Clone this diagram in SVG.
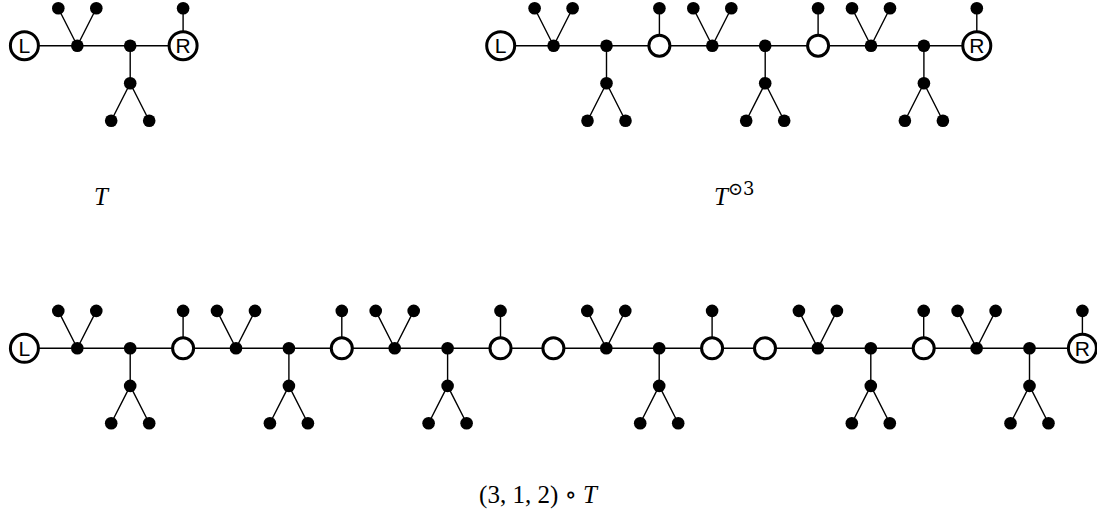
<svg xmlns="http://www.w3.org/2000/svg" width="1097" height="518" viewBox="0 0 1097 518">
<style>
.e{fill:none;stroke:#000;stroke-width:1.4;stroke-linecap:round;stroke-linejoin:round}
.d{fill:#000}
.o{fill:#fff;stroke:#000;stroke-width:3}
.t{fill:#fff;stroke:#000;stroke-width:3}
.lbl{font-family:"Liberation Sans",Arial,sans-serif;font-size:21px;text-anchor:middle}
.m{font-family:"Liberation Serif","DejaVu Serif",serif;font-size:25px}
.it{font-style:italic}
</style>
<rect width="1097" height="518" fill="#fff"/>
<g id="connectors">
<path class="e" d="M24.4 45.7H183.1 M58.3 8.3L77.3 45.7L96.3 8.3 M130.2 45.7V83.3 M111.2 120.7L130.2 83.3L149.2 120.7 M183.1 45.7V8.3"/>
<path class="e" d="M500.7 45.7H976.8 M534.6 8.3L553.6 45.7L572.6 8.3 M606.5 45.7V83.3 M587.5 120.7L606.5 83.3L625.5 120.7 M659.4 45.7V8.3 M693.3 8.3L712.3 45.7L731.3 8.3 M765.2 45.7V83.3 M746.2 120.7L765.2 83.3L784.2 120.7 M818.1 45.7V8.3 M852 8.3L871 45.7L890 8.3 M923.9 45.7V83.3 M904.9 120.7L923.9 83.3L942.9 120.7 M976.8 45.7V8.3"/>
<path class="e" d="M24.4 348.3H1082.4 M58.3 310.9L77.3 348.3L96.3 310.9 M130.2 348.3V385.9 M111.2 423.3L130.2 385.9L149.2 423.3 M183.1 348.3V310.9 M217 310.9L236 348.3L255 310.9 M288.9 348.3V385.9 M269.9 423.3L288.9 385.9L307.9 423.3 M341.8 348.3V310.9 M375.7 310.9L394.7 348.3L413.7 310.9 M447.6 348.3V385.9 M428.6 423.3L447.6 385.9L466.6 423.3 M500.5 348.3V310.9 M587.3 310.9L606.3 348.3L625.3 310.9 M659.2 348.3V385.9 M640.2 423.3L659.2 385.9L678.2 423.3 M712.1 348.3V310.9 M798.9 310.9L817.9 348.3L836.9 310.9 M870.8 348.3V385.9 M851.8 423.3L870.8 385.9L889.8 423.3 M923.7 348.3V310.9 M957.6 310.9L976.6 348.3L995.6 310.9 M1029.5 348.3V385.9 M1010.5 423.3L1029.5 385.9L1048.5 423.3 M1082.4 348.3V310.9"/>
</g>
<g id="tree-T">
<circle class="t" cx="24.4" cy="45.7" r="14"/><text class="lbl" x="24.4" y="53.3">L</text>
<circle class="d" cx="77.3" cy="45.7" r="6.3"/><circle class="d" cx="58.3" cy="8.3" r="6.3"/><circle class="d" cx="96.3" cy="8.3" r="6.3"/>
<circle class="d" cx="130.2" cy="45.7" r="6.3"/><circle class="d" cx="130.2" cy="83.3" r="6.3"/><circle class="d" cx="111.2" cy="120.7" r="6.3"/><circle class="d" cx="149.2" cy="120.7" r="6.3"/>
<circle class="d" cx="183.1" cy="8.3" r="6.3"/>
<circle class="t" cx="183.1" cy="45.7" r="14"/><text class="lbl" x="183.1" y="53.3">R</text>
</g>
<g id="tree-T3">
<circle class="t" cx="500.7" cy="45.7" r="14"/><text class="lbl" x="500.7" y="53.3">L</text>
<circle class="d" cx="553.6" cy="45.7" r="6.3"/><circle class="d" cx="534.6" cy="8.3" r="6.3"/><circle class="d" cx="572.6" cy="8.3" r="6.3"/>
<circle class="d" cx="606.5" cy="45.7" r="6.3"/><circle class="d" cx="606.5" cy="83.3" r="6.3"/><circle class="d" cx="587.5" cy="120.7" r="6.3"/><circle class="d" cx="625.5" cy="120.7" r="6.3"/>
<circle class="d" cx="659.4" cy="8.3" r="6.3"/><circle class="o" cx="659.4" cy="45.7" r="10.5"/>
<circle class="d" cx="712.3" cy="45.7" r="6.3"/><circle class="d" cx="693.3" cy="8.3" r="6.3"/><circle class="d" cx="731.3" cy="8.3" r="6.3"/>
<circle class="d" cx="765.2" cy="45.7" r="6.3"/><circle class="d" cx="765.2" cy="83.3" r="6.3"/><circle class="d" cx="746.2" cy="120.7" r="6.3"/><circle class="d" cx="784.2" cy="120.7" r="6.3"/>
<circle class="d" cx="818.1" cy="8.3" r="6.3"/><circle class="o" cx="818.1" cy="45.7" r="10.5"/>
<circle class="d" cx="871" cy="45.7" r="6.3"/><circle class="d" cx="852" cy="8.3" r="6.3"/><circle class="d" cx="890" cy="8.3" r="6.3"/>
<circle class="d" cx="923.9" cy="45.7" r="6.3"/><circle class="d" cx="923.9" cy="83.3" r="6.3"/><circle class="d" cx="904.9" cy="120.7" r="6.3"/><circle class="d" cx="942.9" cy="120.7" r="6.3"/>
<circle class="d" cx="976.8" cy="8.3" r="6.3"/>
<circle class="t" cx="976.8" cy="45.7" r="14"/><text class="lbl" x="976.8" y="53.3">R</text>
</g>
<g id="tree-312">
<circle class="t" cx="24.4" cy="348.3" r="14"/><text class="lbl" x="24.4" y="355.9">L</text>
<circle class="d" cx="77.3" cy="348.3" r="6.3"/><circle class="d" cx="58.3" cy="310.9" r="6.3"/><circle class="d" cx="96.3" cy="310.9" r="6.3"/>
<circle class="d" cx="130.2" cy="348.3" r="6.3"/><circle class="d" cx="130.2" cy="385.9" r="6.3"/><circle class="d" cx="111.2" cy="423.3" r="6.3"/><circle class="d" cx="149.2" cy="423.3" r="6.3"/>
<circle class="d" cx="183.1" cy="310.9" r="6.3"/><circle class="o" cx="183.1" cy="348.3" r="10.5"/>
<circle class="d" cx="236" cy="348.3" r="6.3"/><circle class="d" cx="217" cy="310.9" r="6.3"/><circle class="d" cx="255" cy="310.9" r="6.3"/>
<circle class="d" cx="288.9" cy="348.3" r="6.3"/><circle class="d" cx="288.9" cy="385.9" r="6.3"/><circle class="d" cx="269.9" cy="423.3" r="6.3"/><circle class="d" cx="307.9" cy="423.3" r="6.3"/>
<circle class="d" cx="341.8" cy="310.9" r="6.3"/><circle class="o" cx="341.8" cy="348.3" r="10.5"/>
<circle class="d" cx="394.7" cy="348.3" r="6.3"/><circle class="d" cx="375.7" cy="310.9" r="6.3"/><circle class="d" cx="413.7" cy="310.9" r="6.3"/>
<circle class="d" cx="447.6" cy="348.3" r="6.3"/><circle class="d" cx="447.6" cy="385.9" r="6.3"/><circle class="d" cx="428.6" cy="423.3" r="6.3"/><circle class="d" cx="466.6" cy="423.3" r="6.3"/>
<circle class="d" cx="500.5" cy="310.9" r="6.3"/><circle class="o" cx="500.5" cy="348.3" r="10.5"/>
<circle class="o" cx="553.4" cy="348.3" r="10.5"/>
<circle class="d" cx="606.3" cy="348.3" r="6.3"/><circle class="d" cx="587.3" cy="310.9" r="6.3"/><circle class="d" cx="625.3" cy="310.9" r="6.3"/>
<circle class="d" cx="659.2" cy="348.3" r="6.3"/><circle class="d" cx="659.2" cy="385.9" r="6.3"/><circle class="d" cx="640.2" cy="423.3" r="6.3"/><circle class="d" cx="678.2" cy="423.3" r="6.3"/>
<circle class="d" cx="712.1" cy="310.9" r="6.3"/><circle class="o" cx="712.1" cy="348.3" r="10.5"/>
<circle class="o" cx="765" cy="348.3" r="10.5"/>
<circle class="d" cx="817.9" cy="348.3" r="6.3"/><circle class="d" cx="798.9" cy="310.9" r="6.3"/><circle class="d" cx="836.9" cy="310.9" r="6.3"/>
<circle class="d" cx="870.8" cy="348.3" r="6.3"/><circle class="d" cx="870.8" cy="385.9" r="6.3"/><circle class="d" cx="851.8" cy="423.3" r="6.3"/><circle class="d" cx="889.8" cy="423.3" r="6.3"/>
<circle class="d" cx="923.7" cy="310.9" r="6.3"/><circle class="o" cx="923.7" cy="348.3" r="10.5"/>
<circle class="d" cx="976.6" cy="348.3" r="6.3"/><circle class="d" cx="957.6" cy="310.9" r="6.3"/><circle class="d" cx="995.6" cy="310.9" r="6.3"/>
<circle class="d" cx="1029.5" cy="348.3" r="6.3"/><circle class="d" cx="1029.5" cy="385.9" r="6.3"/><circle class="d" cx="1010.5" cy="423.3" r="6.3"/><circle class="d" cx="1048.5" cy="423.3" r="6.3"/>
<circle class="d" cx="1082.4" cy="310.9" r="6.3"/>
<circle class="t" cx="1082.4" cy="348.3" r="14"/><text class="lbl" x="1082.4" y="355.9">R</text>
</g>
<g id="labels">
<text class="m it" x="94" y="205">T</text>
<text class="m" x="714" y="205"><tspan class="it">T</tspan><tspan font-size="18" dy="-10" font-family="'DejaVu Serif',serif">⊙3</tspan></text>
<text class="m" x="538" y="503" text-anchor="middle" font-size="23">(3, 1, 2) ∘ <tspan class="it">T</tspan></text>
</g>
</svg>
